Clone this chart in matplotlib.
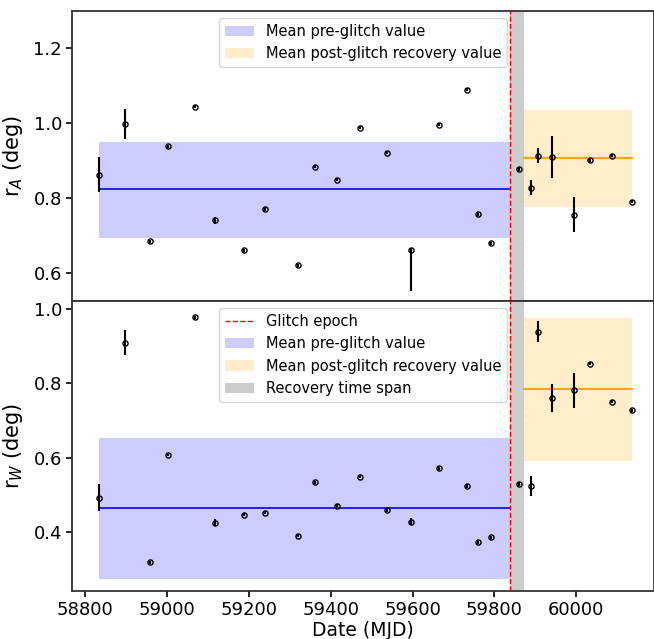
import matplotlib
matplotlib.use("Agg")
import matplotlib.pyplot as plt
import numpy as np

# ---- data ----
mjd = [58833, 58896, 58957, 59001, 59067, 59116, 59187, 59239, 59319, 59362,
       59414, 59471, 59538, 59597, 59664, 59732, 59760, 59791,
       59859, 59889, 59907, 59941, 59994, 60034, 60088, 60135]

rA = [0.862, 0.998, 0.685, 0.938, 1.044, 0.740, 0.661, 0.770, 0.620, 0.883,
      0.849, 0.988, 0.921, 0.661, 0.996, 1.089, 0.756, 0.679,
      0.877, 0.827, 0.913, 0.909, 0.755, 0.901, 0.913, 0.790]
rA_err_lo = [0.046, 0.040, 0.004, 0.004, 0.004, 0.010, 0.004, 0.006, 0.004, 0.004,
             0.004, 0.004, 0.005, 0.110, 0.004, 0.004, 0.004, 0.004,
             0.005, 0.020, 0.020, 0.055, 0.047, 0.004, 0.004, 0.004]
rA_err_hi = [0.046, 0.040, 0.004, 0.004, 0.004, 0.010, 0.004, 0.006, 0.004, 0.004,
             0.004, 0.004, 0.005, 0.005, 0.004, 0.004, 0.004, 0.004,
             0.005, 0.020, 0.020, 0.055, 0.047, 0.004, 0.004, 0.004]

rW = [0.492, 0.909, 0.319, 0.607, 0.978, 0.425, 0.446, 0.452, 0.390, 0.534,
      0.470, 0.549, 0.458, 0.428, 0.571, 0.523, 0.372, 0.385,
      0.529, 0.523, 0.939, 0.760, 0.781, 0.852, 0.750, 0.727]
rW_err = [0.037, 0.034, 0.004, 0.004, 0.004, 0.010, 0.004, 0.004, 0.004, 0.004,
          0.004, 0.004, 0.004, 0.010, 0.004, 0.005, 0.004, 0.004,
          0.005, 0.027, 0.029, 0.037, 0.047, 0.004, 0.004, 0.004]

glitch_epoch = 59839
recovery_end = 59872
pre_start = 58833
post_end = 60135

# means and spreads: (mean, low, high)
pre_A = (0.823, 0.694, 0.949)
post_A = (0.907, 0.777, 1.035)
pre_W = (0.464, 0.272, 0.654)
post_W = (0.785, 0.592, 0.975)

plt.rcParams['font.family'] = ['DejaVu Sans']

fig = plt.figure(figsize=(6.54, 6.39), dpi=100)
ax1 = fig.add_axes([0.1106, 0.529, 0.8894, 0.4538])
ax2 = fig.add_axes([0.1106, 0.0751, 0.8894, 0.4539], sharex=ax1)


def draw(ax, y, elo, ehi, pre, post, full_legend):
    ax.axvline(glitch_epoch, color='red', ls='--', lw=1,
               label='Glitch epoch' if full_legend else '_nolegend_', zorder=3)
    ax.fill_between([pre_start, glitch_epoch], pre[1], pre[2], color='blue',
                    alpha=0.2, lw=0, label='Mean pre-glitch value')
    ax.plot([pre_start, glitch_epoch], [pre[0], pre[0]], color='blue', lw=1.2)
    ax.fill_between([recovery_end, post_end], post[1], post[2], color='orange',
                    alpha=0.2, lw=0, label='Mean post-glitch recovery value')
    ax.plot([recovery_end, post_end], [post[0], post[0]], color='orange', lw=1.5)
    ax.axvspan(glitch_epoch, recovery_end, color='gray', alpha=0.4, lw=0,
               label='Recovery time span' if full_legend else '_nolegend_')
    ax.errorbar(mjd, y, yerr=[elo, ehi], fmt='o', ms=3.7, mfc='none', mec='k',
                mew=1.0, ecolor='k', elinewidth=1.5, zorder=4)
    ax.legend(loc='upper center', fontsize=10.5, framealpha=0.8)
    ax.tick_params(labelsize=13, width=1.2, length=4)
    for s in ax.spines.values():
        s.set_linewidth(1.3)
        s.set_color('#333333')


draw(ax1, rA, rA_err_lo, rA_err_hi, pre_A, post_A, False)
draw(ax2, rW, rW_err, rW_err, pre_W, post_W, True)

ax1.set_xlim(58768, 60190)
ax1.set_ylim(0.525, 1.299)
ax2.set_ylim(0.241, 1.0215)
ax1.set_yticks([0.6, 0.8, 1.0, 1.2])
ax2.set_yticks([0.4, 0.6, 0.8, 1.0])
ax2.set_xticks([58800, 59000, 59200, 59400, 59600, 59800, 60000])
ax1.tick_params(axis='x', bottom=False, labelbottom=False)

ax1.set_ylabel('r$_A$ (deg)', fontsize=15, labelpad=6)
ax2.set_ylabel('r$_W$ (deg)', fontsize=15, labelpad=6)
ax2.set_xlabel('Date (MJD)', fontsize=13.5, labelpad=1)
fig.align_ylabels([ax1, ax2])

fig.savefig('out.png', dpi=100)
